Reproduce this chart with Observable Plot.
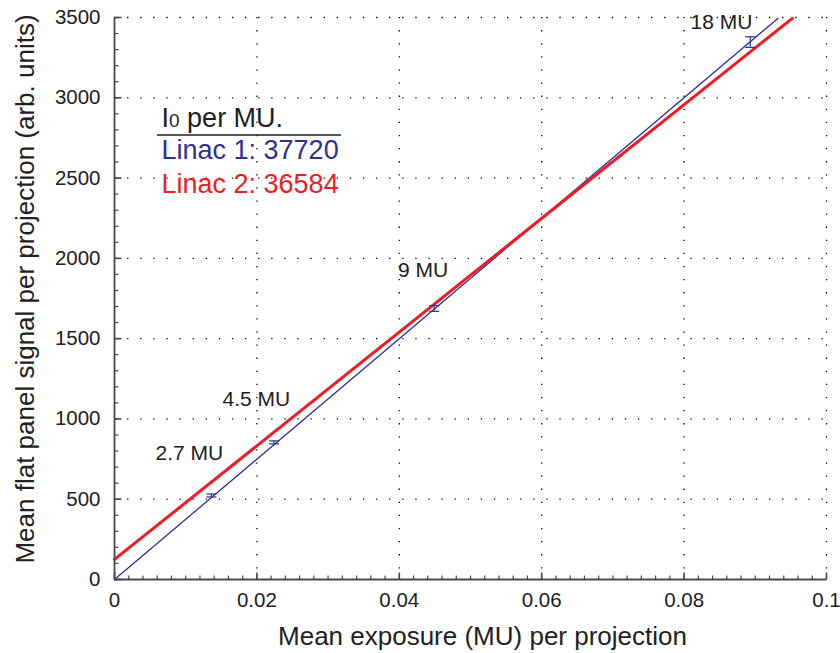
<!DOCTYPE html>
<html><head><meta charset="utf-8">
<script src="https://cdn.jsdelivr.net/npm/d3@7"></script>
<script src="https://cdn.jsdelivr.net/npm/@observablehq/plot@0.6"></script>
<style>body{margin:0;background:#fff}</style>
</head><body><div id="chart"></div>
<script>
// ---- data ----
const xTicks = [0, 0.02, 0.04, 0.06, 0.08, 0.1];
const yTicks = [0, 500, 1000, 1500, 2000, 2500, 3000, 3500];
const xMinorStep = 0.002;
const yMinorStep = 100;

const exposure = [0.0136, 0.0224, 0.0449, 0.0893];     // MU per projection
const signal = [523, 854, 1688, 3347];                 // Linac 1 measured
const signalErr = [9, 9, 18, 33];
const doseLabels = ["2.7 MU", "4.5 MU", "9 MU", "18 MU"];
const labelX = [0.00576, 0.01517, 0.0398, 0.0809];
const labelY = [745, 1083, 1881, 3429];

const linac1X = [0, 0.0932];
const linac1Y = [0, 3495];
const linac2X = [0, 0.0952];
const linac2Y = [125, 3495];

const legendLines = ["I0 per MU.", "Linac 1: 37720", "Linac 2: 36584"];

const BLUE = "#2e3192", RED = "#ed1c24", INK = "#231f20", AXIS = "#4a4a4a";

// ---- derived tables ----
const points = exposure.map((x, i) => ({x, y: signal[i], lo: signal[i] - signalErr[i], hi: signal[i] + signalErr[i]}));
const labels = doseLabels.map((t, i) => ({t, x: labelX[i], y: labelY[i]}));
const line1 = linac1X.map((x, i) => ({x, y: linac1Y[i]}));
const line2 = linac2X.map((x, i) => ({x, y: linac2Y[i]}));
const xMinor = d3.range(0, 0.1 + 1e-9, xMinorStep);
const yMinor = d3.range(0, 3500 + 1e-9, yMinorStep);

// custom stroke-only symbols
const tickRight = len => ({draw(ctx) { ctx.moveTo(0, 0); ctx.lineTo(len, 0); }});
const tickUp = len => ({draw(ctx) { ctx.moveTo(0, 0); ctx.lineTo(0, -len); }});
const cap = w => ({draw(ctx) { ctx.moveTo(-w / 2, 0); ctx.lineTo(w / 2, 0); }});

const ML = 114, MT = 17;

const chart = Plot.plot({
  width: 840,
  height: 653,
  marginLeft: ML,
  marginRight: 14,
  marginTop: MT,
  marginBottom: 74,
  style: {fontFamily: "'Liberation Sans', Arial, Helvetica, sans-serif", fontSize: "20.5px", background: "#fff", color: "#222"},
  x: {domain: [0, 0.1], label: null},
  y: {domain: [0, 3500], label: null},
  marks: [
    Plot.gridX(xTicks.filter(d => d > 0), {stroke: "#000", strokeOpacity: 1, strokeWidth: 1.3, strokeDasharray: "1.3,11.8"}),
    Plot.gridY(yTicks.filter(d => d > 0), {stroke: "#000", strokeOpacity: 1, strokeWidth: 1.3, strokeDasharray: "1.3,11.8"}),
    Plot.axisX({ticks: xTicks, tickSize: 0, tickPadding: 13, tickFormat: d => String(d), label: null, fill: "#222"}),
    Plot.axisY({ticks: yTicks, tickSize: 0, tickPadding: 14, tickFormat: d => String(d), label: null, fill: "#222"}),
    // fitted lines
    Plot.line(line1, {x: "x", y: "y", stroke: BLUE, strokeWidth: 1.3}),
    Plot.line(line2, {x: "x", y: "y", stroke: RED, strokeWidth: 3}),
    // error bars
    Plot.ruleX(points, {x: "x", y1: "lo", y2: "hi", stroke: BLUE, strokeWidth: 1.2}),
    Plot.dot(points, {x: "x", y: "lo", symbol: cap(10), fill: "none", stroke: BLUE, strokeWidth: 1.2}),
    Plot.dot(points, {x: "x", y: "hi", symbol: cap(10), fill: "none", stroke: BLUE, strokeWidth: 1.2}),
    // dose labels
    Plot.text(labels, {x: "x", y: "y", text: "t", textAnchor: "start", lineAnchor: "bottom", fontSize: 21, fill: "#222"}),
    // axes lines
    Plot.ruleX([0], {stroke: AXIS, strokeWidth: 1.8}),
    Plot.ruleY([0], {stroke: AXIS, strokeWidth: 1.8}),
    // inward ticks
    Plot.dot(xMinor, {x: d => d, y: () => 0, symbol: tickUp(4), fill: "none", stroke: AXIS, strokeWidth: 1.2}),
    Plot.dot(yMinor, {y: d => d, x: () => 0, symbol: tickRight(4), fill: "none", stroke: AXIS, strokeWidth: 1.2}),
    Plot.dot(xTicks, {x: d => d, y: () => 0, symbol: tickUp(7), fill: "none", stroke: AXIS, strokeWidth: 1.6}),
    Plot.dot(yTicks, {y: d => d, x: () => 0, symbol: tickRight(7), fill: "none", stroke: AXIS, strokeWidth: 1.6}),
    // axis titles
    Plot.text(["Mean exposure (MU) per projection"], {text: d => d, frameAnchor: "bottom", textAnchor: "middle", dx: 12, dy: 65, lineAnchor: "bottom", fontSize: 26, fill: "#222"}),
    Plot.text(["Mean flat panel signal per projection (arb. units)"], {text: d => d, frameAnchor: "left", textAnchor: "middle", rotate: -90, dx: 33 - ML, dy: -9.5, lineAnchor: "bottom", fontSize: 26, fill: "#222"}),
    // legend box text
    Plot.text([legendLines[0]], {text: d => d, frameAnchor: "top-left", dx: 161 - ML, dy: 126 - MT, textAnchor: "start", lineAnchor: "bottom", fontSize: 27, fill: INK}),
    Plot.text([legendLines[1]], {text: d => d, frameAnchor: "top-left", dx: 161 - ML, dy: 158 - MT, textAnchor: "start", lineAnchor: "bottom", fontSize: 27, fill: BLUE}),
    Plot.text([legendLines[2]], {text: d => d, frameAnchor: "top-left", dx: 161 - ML, dy: 192 - MT, textAnchor: "start", lineAnchor: "bottom", fontSize: 27, fill: RED})
  ]
});

// subscript-like small 0 in "I0"
d3.select(chart).selectAll("text").filter(function() { return this.textContent === legendLines[0]; })
  .each(function() {
    const t = d3.select(this);
    t.text(null);
    t.append("tspan").text("I");
    t.append("tspan").attr("font-size", 19).text("0");
    t.append("tspan").text(" per MU.");
  });
// rule under the legend heading
d3.select(chart).append("line")
  .attr("x1", ML + 43).attr("x2", ML + 227)
  .attr("y1", MT + 118).attr("y2", MT + 118)
  .attr("stroke", INK).attr("stroke-width", 1.3);

document.getElementById("chart").appendChild(chart);
</script>
</body></html>
